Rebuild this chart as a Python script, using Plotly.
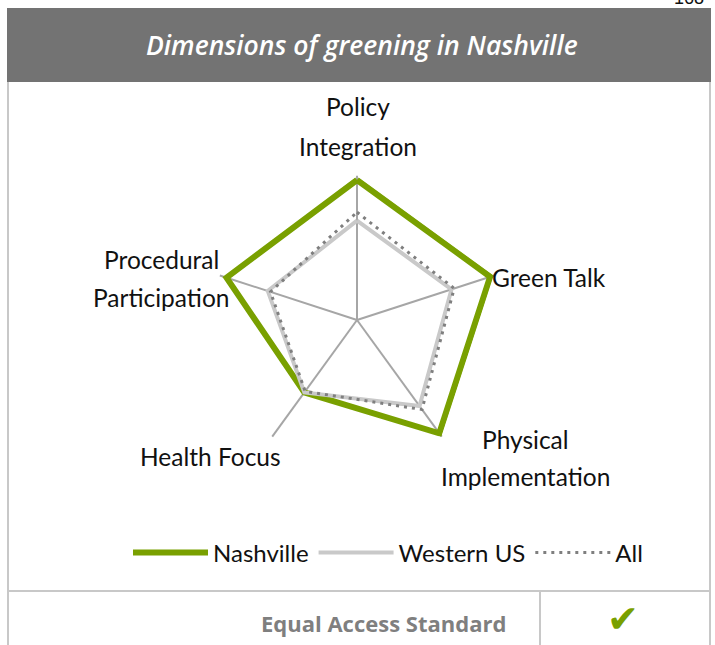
import plotly.graph_objects as go

# Dimensions of greening (clockwise from the top)
dimensions = ["Policy Integration", "Green Talk", "Physical Implementation",
              "Health Focus", "Procedural Participation"]
nashville = [1.00, 1.00, 1.00, 0.64, 0.98]
western_us = [0.71, 0.71, 0.76, 0.64, 0.67]
all_cities = [0.77, 0.73, 0.79, 0.63, 0.65]

W, H = 715, 645
GREEN = "#79A000"
LABEL_FONT = "Lato"
TEXT = "#111111"
R_MAX = 1.03  # small headroom so the outer line is not clipped by the polar frame


def closed(vals):
    return vals + vals[:1]


theta = closed(dimensions)

fig = go.Figure()
fig.add_trace(go.Scatterpolar(r=closed(nashville), theta=theta, mode="lines", cliponaxis=False,
                              name="Nashville", line=dict(color=GREEN, width=6)))
fig.add_trace(go.Scatterpolar(r=closed(western_us), theta=theta, mode="lines", cliponaxis=False,
                              name="Western US", line=dict(color="#C9C9C9", width=4)))
fig.add_trace(go.Scatterpolar(r=closed(all_cities), theta=theta, mode="lines", cliponaxis=False,
                              name="All", line=dict(color="#7F7F7F", width=3, dash="3px,5px")))

# Radar area placed by pixel centre and radius (radius of value 1.0 is 140 px)
cx, cy = 357, 320
rad = 140 * R_MAX
fig.update_layout(
    polar=dict(
        domain=dict(x=[(cx - rad) / W, (cx + rad) / W],
                    y=[(H - cy - rad) / H, (H - cy + rad) / H]),
        bgcolor="white",
        gridshape="linear",
        radialaxis=dict(visible=False, range=[0, R_MAX]),
        angularaxis=dict(direction="clockwise", rotation=90, showline=False,
                         showgrid=True, gridcolor="#A6A6A6", gridwidth=1.5,
                         ticks="", showticklabels=False,
                         categoryorder="array", categoryarray=dimensions),
    ),
    width=W, height=H,
    margin=dict(l=0, r=0, t=0, b=0),
    paper_bgcolor="white",
    showlegend=True,
    legend=dict(orientation="h", x=388 / W, xanchor="center", y=(H - 553) / H,
                yanchor="middle", font=dict(family=LABEL_FONT, size=24, color=TEXT),
                itemwidth=75, bgcolor="rgba(0,0,0,0)"),
)


def px_x(v):
    return v / W


def px_y(v):
    return 1 - v / H


shapes = [
    # title band
    dict(type="rect", xref="paper", yref="paper", x0=px_x(7), x1=px_x(711),
         y0=px_y(82), y1=px_y(8), fillcolor="#737373", line=dict(width=0), layer="below"),
    # frame lines
    dict(type="line", xref="paper", yref="paper", x0=px_x(8), x1=px_x(8),
         y0=px_y(82), y1=px_y(645), line=dict(color="#C8C8C8", width=2)),
    dict(type="line", xref="paper", yref="paper", x0=px_x(710), x1=px_x(710),
         y0=px_y(82), y1=px_y(645), line=dict(color="#C8C8C8", width=2)),
    dict(type="line", xref="paper", yref="paper", x0=px_x(8), x1=px_x(710),
         y0=px_y(591), y1=px_y(591), line=dict(color="#C8C8C8", width=2)),
    dict(type="line", xref="paper", yref="paper", x0=px_x(540), x1=px_x(540),
         y0=px_y(591), y1=px_y(645), line=dict(color="#C8C8C8", width=2)),
]
fig.update_layout(shapes=shapes)


def label(text, x, y, anchor="center"):
    return dict(text=text, x=px_x(x), y=px_y(y), xref="paper", yref="paper",
                showarrow=False, xanchor=anchor, yanchor="middle",
                font=dict(family=LABEL_FONT, size=24.5, color=TEXT))


# axis names, one annotation per text line
annotations = [
    label("Policy", 358, 107), label("Integration", 358, 146),
    label("Green Talk", 490, 277, "left"),
    label("Physical", 525, 439), label("Implementation", 525, 476),
    label("Health Focus", 210, 457),
    label("Procedural", 161, 259), label("Participation", 161, 297),
    dict(text="Dimensions of greening in Nashville", x=px_x(362), y=px_y(45),
         xref="paper", yref="paper", showarrow=False, xanchor="center", yanchor="middle",
         font=dict(family="Open Sans", size=26.5, color="white", weight=600, style="italic")),
    dict(text="Equal Access Standard", x=px_x(508), y=px_y(623),
         xref="paper", yref="paper", showarrow=False, xanchor="right", yanchor="middle",
         font=dict(family="Open Sans", size=22, color="#7F7F7F", weight="bold")),
    dict(text="✔", x=px_x(623), y=px_y(619),
         xref="paper", yref="paper", showarrow=False, xanchor="center", yanchor="middle",
         font=dict(family="DejaVu Sans", size=38, color=GREEN)),
    dict(text="168", x=px_x(706), y=px_y(-2),
         xref="paper", yref="paper", showarrow=False, xanchor="right", yanchor="middle",
         font=dict(family="Liberation Sans", size=18, color=TEXT)),
]
fig.update_layout(annotations=annotations)

fig.write_html("out.html")
